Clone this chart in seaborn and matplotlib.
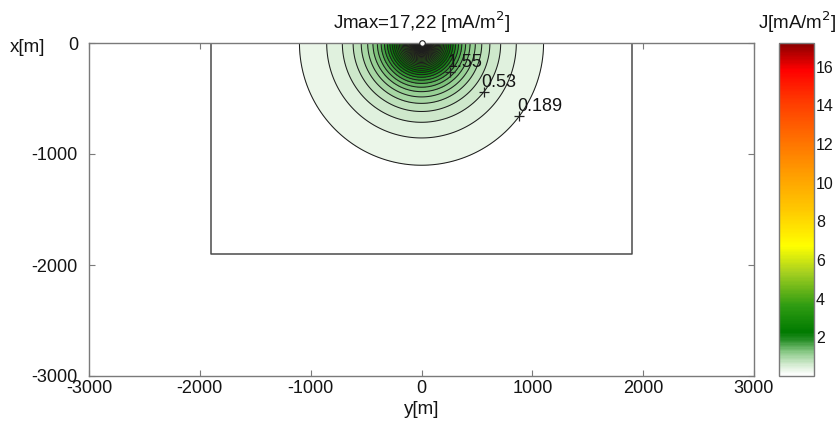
import numpy as np
import matplotlib
matplotlib.use("Agg")
import matplotlib.pyplot as plt
import seaborn as sns
from matplotlib.colors import LinearSegmentedColormap, Normalize
from matplotlib.cm import ScalarMappable

# ---------------- data ----------------
j_max = 17.22            # mA/m^2, value at the source (origin)
j_min = 0.0187           # lowest level of the contour ladder
n_intervals = 101        # contour ladder: j_min .. j_max
label_levels = [1.55, 0.53, 0.189]
label_angles_deg = [45, 38, 37]     # where the labels sit along each contour

# radial decay of J, fitted to the contour radii
# J(r) = Jmax / (1 + (r/r0)^p * exp(r/L))
r0_m = 33.0
p_exp = 0.664
decay_len_m = 507.0

rect_half_width = 1900
rect_depth = 1900

y_ticks = [-3000, -2000, -1000, 0, 1000, 2000, 3000]
x_ticks = [-3000, -2000, -1000, 0]
cbar_ticks = [2, 4, 6, 8, 10, 12, 14, 16]

cmap_nodes = [0.0, 0.03, 0.07, 0.105, 0.13, 0.21, 0.31, 0.39, 0.5, 0.6, 0.72, 0.83, 0.92, 1.0]
cmap_colors = ["#ffffff", "#d8edd5", "#8ac987", "#2a902a", "#007a00", "#2f9c12", "#a6d020",
               "#ffff00", "#ffc800", "#ffa000", "#ff6c00", "#ff3800", "#ff0000", "#8a0000"]

# ---------------- style ----------------
sns.set_theme(style="ticks")
plt.rcParams["font.family"] = ["Liberation Sans", "DejaVu Sans"]
plt.rcParams["axes.unicode_minus"] = False
FS = 13
FS_T = 13.5
FS_CB = 11.5
TXT = "#141414"
GRAY = "#7a7a7a"

fig = plt.figure(figsize=(8.36, 4.21), dpi=100)
W, H = 836, 421
ax = fig.add_axes([89 / W, 1 - 376 / H, (754 - 89) / W, (376 - 43) / H])
cax = fig.add_axes([779 / W, 1 - 376 / H, 35 / W, (376 - 43) / H])

cmap = LinearSegmentedColormap.from_list("jmap", list(zip(cmap_nodes, cmap_colors)))
norm = Normalize(vmin=0, vmax=j_max)

# ---------------- field ----------------
yy = np.linspace(-3000, 3000, 1501)
xx = np.linspace(-3000, 0, 751)
Y, X = np.meshgrid(yy, xx)
R = np.hypot(Y, X)
J = j_max / (1.0 + (R / r0_m) ** p_exp * np.exp(R / decay_len_m))

levels = np.linspace(j_min, j_max, n_intervals + 1)
draw_levels = levels[1:-1]

ax.contourf(Y, X, J, levels=np.append(draw_levels, j_max + 1), cmap=cmap, norm=norm)
cs = ax.contour(Y, X, J, levels=draw_levels, colors="#1e1e1e", linewidths=0.75)

# rectangle (model domain)
rect_y = [-rect_half_width, -rect_half_width, rect_half_width, rect_half_width]
rect_x = [0, -rect_depth, -rect_depth, 0]
sns.lineplot(x=rect_y, y=rect_x, sort=False, estimator=None, ax=ax,
             color="#4a4a4a", linewidth=1.1)

# max marker at source
ax.plot([0], [0], marker="o", ms=4, mfc="white", mec="#222222", mew=0.8,
        clip_on=False, zorder=5)

# contour labels with '+' markers
for lev, ang in zip(label_levels, label_angles_deg):
    idx = int(np.argmin(np.abs(draw_levels - lev)))
    segs = [s for s in cs.allsegs[idx] if len(s)]
    pts = np.vstack(segs)
    a = np.degrees(np.arctan2(-pts[:, 1], pts[:, 0]))
    k = int(np.argmin(np.abs(a - ang)))
    py, px = pts[k]
    ax.plot([py], [px], marker="+", ms=7, color="#222222", mew=0.9, zorder=6)
    ax.text(py - 20, px + 10, f"{lev:g}", fontsize=FS, color=TXT,
            ha="left", va="bottom", zorder=7)

ax.set_xlim(-3000, 3000)
ax.set_ylim(-3000, 0)
ax.set_xticks(y_ticks)
ax.set_xticklabels([str(v) for v in y_ticks])
ax.set_yticks(x_ticks)
ax.set_yticklabels([str(v) for v in x_ticks])
ax.tick_params(direction="in", top=True, right=True, length=4, width=0.8,
               color=GRAY, labelsize=FS, labelcolor=TXT, pad=3)
ax.tick_params(axis="y", pad=8)
for s in ax.spines.values():
    s.set_color(GRAY)
    s.set_linewidth(1.0)
    s.set_visible(True)
ax.set_xlabel("")
ax.set_ylabel("")

fig.text(422 / W, 1 - 22 / H, "Jmax=17,22 [mA/m$^2$]", ha="center", va="center",
         fontsize=FS_T, color=TXT)
fig.text(28 / W, 1 - 48 / H, "x[m]", ha="center", va="center", fontsize=FS_T, color=TXT)
fig.text(422 / W, 1 - 410 / H, "y[m]", ha="center", va="center", fontsize=FS_T, color=TXT)

# colorbar
sm = ScalarMappable(norm=norm, cmap=cmap)
cb = fig.colorbar(sm, cax=cax)
cb.set_ticks(cbar_ticks)
cb.set_ticklabels([str(v) for v in cbar_ticks])
cax.tick_params(direction="in", left=True, right=True, labelleft=False, labelright=True,
                length=3, width=0.8, color="#333333", labelsize=FS_CB, labelcolor=TXT, pad=1.5)
cb.outline.set_edgecolor(GRAY)
cb.outline.set_linewidth(1.0)
fig.text(797 / W, 1 - 22 / H, "J[mA/m$^2$]", ha="center", va="center", fontsize=FS_T, color=TXT)

fig.savefig("out.png", dpi=100)
